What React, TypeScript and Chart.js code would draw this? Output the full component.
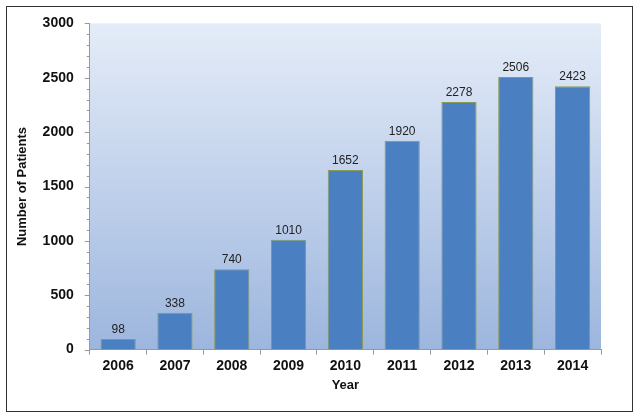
import React, { useEffect, useRef } from "react";
import { Chart, registerables } from "chart.js";
Chart.register(...registerables);

const years = ["2006", "2007", "2008", "2009", "2010", "2011", "2012", "2013", "2014"];
const patients = [98, 338, 740, 1010, 1652, 1920, 2278, 2506, 2423];
const yMax = 3000;
const yStep = 500;
const minorStep = 100;

const bgPlugin = {
  id: "bg",
  beforeDraw(chart: any) {
    const { ctx, chartArea: a } = chart;
    const g = ctx.createLinearGradient(0, a.top, 0, a.bottom);
    g.addColorStop(0, "#e4ecf8");
    g.addColorStop(1, "#9db6de");
    ctx.save();
    ctx.fillStyle = g;
    ctx.fillRect(a.left, a.top, a.right - a.left, a.bottom - a.top);
    ctx.restore();
  },
  afterDraw(chart: any) {
    const { ctx, chartArea: a } = chart;
    const y = chart.scales.y;
    ctx.save();
    ctx.strokeStyle = "#999";
    ctx.lineWidth = 1;
    for (let v = 0; v <= yMax; v += minorStep) {
      const p = Math.round(y.getPixelForValue(v)) + 0.5;
      const len = v % yStep === 0 ? 5 : 3;
      ctx.beginPath();
      ctx.moveTo(a.left - len, p);
      ctx.lineTo(a.left, p);
      ctx.stroke();
    }
    const meta = chart.getDatasetMeta(0);
    ctx.fillStyle = "#222";
    ctx.font = "12px Arial, 'Liberation Sans', sans-serif";
    ctx.textAlign = "center";
    ctx.textBaseline = "bottom";
    meta.data.forEach((bar: any, i: number) => {
      ctx.fillText(String(patients[i]), bar.x, bar.y - 3);
    });
    ctx.restore();
  },
};

const font = { family: "Arial, 'Liberation Sans', sans-serif", size: 14, weight: "bold" as const };

export default function App() {
  const ref = useRef<HTMLCanvasElement>(null);
  useEffect(() => {
    document.body.style.margin = "0";
    const chart = new Chart(ref.current!, {
      type: "bar",
      data: {
        labels: years,
        datasets: [{
          data: patients,
          backgroundColor: "#4a7fc1",
          borderColor: "#8a9a5b",
          borderWidth: 1,
          categoryPercentage: 1,
          barPercentage: 0.62,
        }],
      },
      options: {
        animation: false,
        responsive: false,
        maintainAspectRatio: false,
        layout: { padding: { top: 14, right: 31, left: 4, bottom: 14 } },
        plugins: { legend: { display: false }, tooltip: { enabled: false } },
        scales: {
          x: {
            grid: { display: true, drawOnChartArea: false, offset: true, color: "#999", tickLength: 5 },
            border: { color: "#999" },
            ticks: { color: "#111", font },
            title: { display: true, text: "Year", color: "#111", padding: { top: 0 }, font: { ...font, size: 13 } },
          },
          y: {
            min: 0, max: yMax,
            grid: { display: false },
            border: { color: "#999" },
            ticks: { stepSize: yStep, padding: 8, color: "#111", font, callback: (v: any) => String(v) },
            title: { display: true, text: "Number of Patients", color: "#111", padding: { bottom: 4 }, font: { ...font, size: 13 } },
          },
        },
      },
      plugins: [bgPlugin],
    });
    return () => chart.destroy();
  }, []);
  return (
    <div style={{ width: 639, height: 418, position: "relative", background: "#fff" }}>
      <div style={{ position: "absolute", left: 6, top: 6, width: 625, height: 404, border: "1.5px solid #333" }}>
        <canvas ref={ref} width={625} height={404} />
      </div>
    </div>
  );
}
